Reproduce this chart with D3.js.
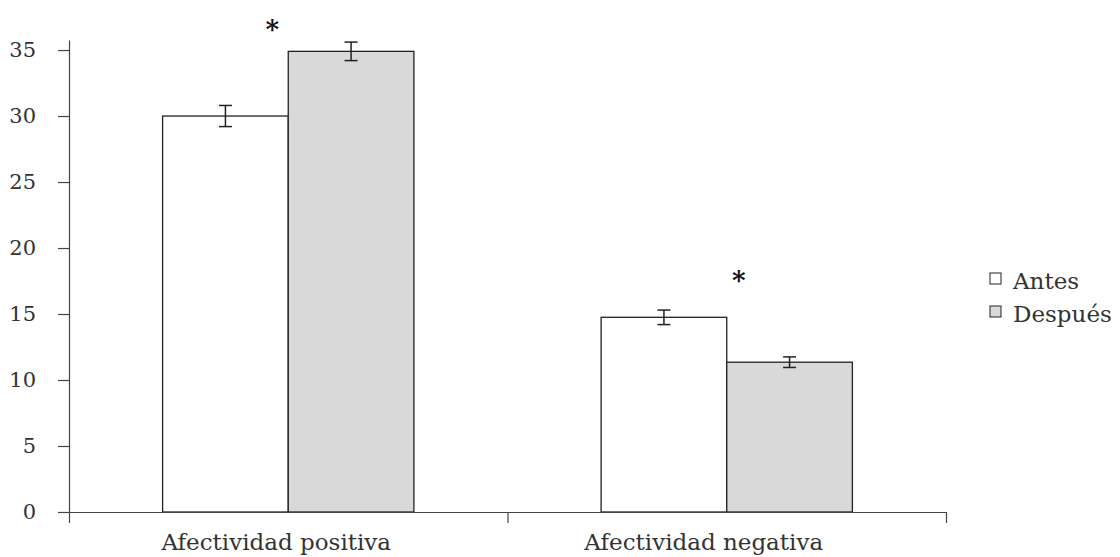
<!DOCTYPE html>
<html>
<head>
<meta charset="utf-8">
<script src="https://cdn.jsdelivr.net/npm/d3@7"></script>
<style>
  html, body { margin: 0; padding: 0; background: #fff; }
  text { font-family: "DejaVu Serif", serif; fill: #333; }
</style>
</head>
<body>
<div id="chart"></div>
<script>
// données
const groups = ["Afectividad positiva", "Afectividad negativa"];
const series = ["Antes", "Después"];
const antesMeans = [30.0, 14.75];
const despuesMeans = [34.9, 11.35];
const antesErr = [0.8, 0.55];
const despuesErr = [0.7, 0.4];
const sigLevel = [37.05, 18.03]; // hauteur des astérisques
const yTicks = [0, 5, 10, 15, 20, 25, 30, 35];

const width = 1120;
const height = 557;
const fills = { "Antes": "#ffffff", "Después": "#d9d9d9" };

const rows = [];
groups.forEach((g, i) => {
  rows.push({ group: g, serie: "Antes", value: antesMeans[i], err: antesErr[i] });
  rows.push({ group: g, serie: "Después", value: despuesMeans[i], err: despuesErr[i] });
});

const svg = d3.select("#chart")
  .append("svg")
  .attr("width", width)
  .attr("height", height);

// échelles
const x0 = d3.scaleBand().domain(groups).range([69, 946]).padding(0);
const x1 = d3.scaleBand().domain(series).range([0, x0.bandwidth()])
  .paddingInner(0).paddingOuter(0.745);
const y = d3.scaleLinear().domain([0, 35.76]).range([512, 40]);

// axe Y
const yAxis = svg.append("g")
  .attr("transform", "translate(69,0)")
  .call(d3.axisLeft(y).tickValues(yTicks).tickSize(11).tickSizeOuter(0).tickPadding(22));
yAxis.select(".domain").attr("stroke", "#444").attr("stroke-width", 1.2);
yAxis.selectAll(".tick line").attr("stroke", "#444").attr("stroke-width", 1.2);
yAxis.selectAll(".tick text")
  .style("font-family", "DejaVu Serif, serif")
  .style("font-size", "21px")
  .attr("fill", "#333");

// barres
svg.append("g")
  .selectAll("rect")
  .data(rows)
  .join("rect")
  .attr("x", (d) => x0(d.group) + x1(d.serie))
  .attr("y", (d) => y(d.value))
  .attr("width", x1.bandwidth())
  .attr("height", (d) => y(0) - y(d.value))
  .attr("fill", (d) => fills[d.serie])
  .attr("stroke", "#222")
  .attr("stroke-width", 1.3);

// barres d'erreur
const eb = svg.append("g")
  .selectAll("g")
  .data(rows)
  .join("g")
  .attr("stroke", "#222")
  .attr("stroke-width", 1.5);
const cx = (d) => x0(d.group) + x1(d.serie) + x1.bandwidth() / 2;
eb.append("line")
  .attr("x1", cx).attr("x2", cx)
  .attr("y1", (d) => y(d.value + d.err))
  .attr("y2", (d) => y(d.value - d.err));
eb.append("line")
  .attr("x1", (d) => cx(d) - 6.5).attr("x2", (d) => cx(d) + 6.5)
  .attr("y1", (d) => y(d.value + d.err)).attr("y2", (d) => y(d.value + d.err));
eb.append("line")
  .attr("x1", (d) => cx(d) - 6.5).attr("x2", (d) => cx(d) + 6.5)
  .attr("y1", (d) => y(d.value - d.err)).attr("y2", (d) => y(d.value - d.err));

// axe X
const xLin = d3.scaleLinear().domain([0, groups.length]).range(x0.range());
const xAxis = svg.append("g")
  .attr("transform", `translate(0,${y(0)})`)
  .call(d3.axisBottom(xLin).tickValues(d3.range(groups.length + 1))
    .tickFormat("").tickSize(11).tickSizeOuter(0));
xAxis.select(".domain").attr("stroke", "#444").attr("stroke-width", 1.2);
xAxis.selectAll(".tick line").attr("stroke", "#444").attr("stroke-width", 1.2);

const labelDx = [-12, -23];
svg.append("g")
  .selectAll("text")
  .data(groups)
  .join("text")
  .attr("x", (d, i) => x0(d) + x0.bandwidth() / 2 + labelDx[i])
  .attr("y", y(0) + 38)
  .attr("text-anchor", "middle")
  .style("font-size", "23px")
  .text((d) => d);

// astérisques
const starDx = [-16, 12];
svg.append("g")
  .selectAll("text")
  .data(groups)
  .join("text")
  .attr("x", (d, i) => x0(d) + x0.bandwidth() / 2 + starDx[i])
  .attr("y", (d, i) => y(sigLevel[i]) + 15)
  .attr("text-anchor", "middle")
  .style("font-size", "26px")
  .style("font-weight", "bold")
  .style("fill", "#111")
  .text("*");

// légende
const legend = svg.append("g")
  .attr("transform", "translate(990,273)");
const item = legend.selectAll("g")
  .data(series)
  .join("g")
  .attr("transform", (d, i) => `translate(0,${i * 33})`);
item.append("rect")
  .attr("width", 11)
  .attr("height", 11)
  .attr("fill", (d) => fills[d])
  .attr("stroke", "#222")
  .attr("stroke-width", 1);
item.append("text")
  .attr("x", 23)
  .attr("y", 16)
  .style("font-size", "23px")
  .text((d) => d);
</script>
</body>
</html>
